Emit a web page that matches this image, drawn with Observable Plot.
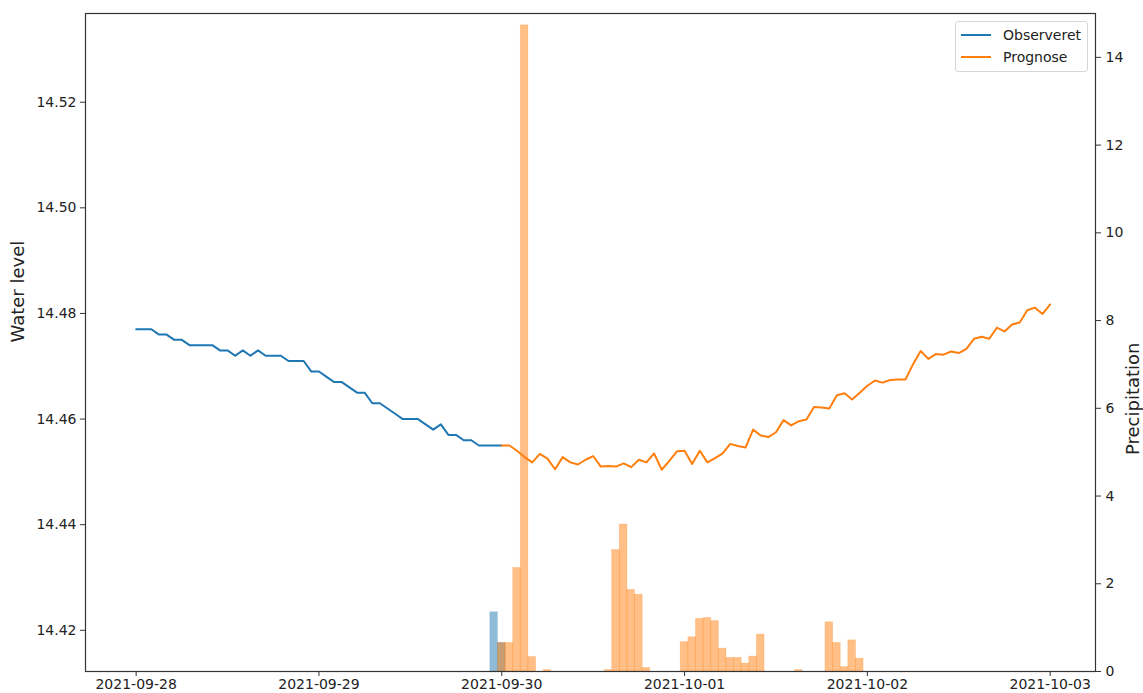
<!DOCTYPE html>
<html>
<head>
<meta charset="utf-8">
<script src="https://cdn.jsdelivr.net/npm/d3@7"></script>
<script src="https://cdn.jsdelivr.net/npm/@observablehq/plot@0.6"></script>
<style>
  html, body { margin: 0; padding: 0; background: #fff; }
  #chart { position: relative; width: 1143px; height: 693px; font-family: "DejaVu Sans", sans-serif; }
  #chart svg { position: absolute; left: 0; top: 0; }
  #legend { position: absolute; left: 955px; top: 21px; width: 133px; height: 51px; box-sizing: border-box;
            border: 1px solid #d6d6d6; border-radius: 3px; background: rgba(255,255,255,0.85);
            font-family: "DejaVu Sans", sans-serif; font-size: 14px; color: #222; }
  .item { position: absolute; left: 5px; height: 20px; display: flex; align-items: center; }
  .sw { width: 30px; height: 2px; margin-right: 12px; }
</style>
</head>
<body>
<div id="chart"></div>
<script>
// ---------- data ----------
const obsLevelStart = "2021-09-28T00:00:00Z";   // hourly
const obsLevel = [
  14.477, 14.477, 14.477, 14.476, 14.476, 14.475, 14.475, 14.474, 14.474, 14.474,
  14.474, 14.473, 14.473, 14.472, 14.473, 14.472, 14.473, 14.472, 14.472, 14.472,
  14.471, 14.471, 14.471, 14.469, 14.469, 14.468, 14.467, 14.467, 14.466, 14.465,
  14.465, 14.463, 14.463, 14.462, 14.461, 14.460, 14.460, 14.460, 14.459, 14.458,
  14.459, 14.457, 14.457, 14.456, 14.456, 14.455, 14.455, 14.455, 14.455
];
const fcLevelStart = "2021-09-30T00:00:00Z";    // hourly
const fcLevel = [
  14.4550, 14.4550, 14.4540, 14.4528, 14.4518, 14.4534, 14.4525, 14.4505, 14.4528, 14.4518,
  14.4514, 14.4523, 14.4530, 14.4510, 14.4511, 14.4510, 14.4516, 14.4509, 14.4523, 14.4518,
  14.4535, 14.4504, 14.4521, 14.4539, 14.4540, 14.4515, 14.4540, 14.4518, 14.4526, 14.4535,
  14.4553, 14.4549, 14.4546, 14.4580, 14.4569, 14.4566, 14.4575, 14.4598, 14.4588, 14.4596,
  14.4599, 14.4623, 14.4622, 14.4620, 14.4645, 14.4649, 14.4637, 14.4650, 14.4663, 14.4673,
  14.4669, 14.4674, 14.4675, 14.4675, 14.4704, 14.4729, 14.4714, 14.4723, 14.4722, 14.4728,
  14.4725, 14.4733, 14.4752, 14.4756, 14.4752, 14.4773, 14.4766, 14.4779, 14.4783, 14.4806,
  14.4811, 14.4799, 14.4817
];
const obsPrecipStart = "2021-09-29T23:00:00Z";  // hourly
const obsPrecip = [1.35, 0.65];
const fcPrecipStart = "2021-09-30T00:00:00Z";   // hourly
const fcPrecip = [
  0.65, 0.65, 2.36, 14.73, 0.33, 0, 0.03, 0, 0, 0,
  0, 0, 0, 0, 0.03, 2.77, 3.35, 1.86, 1.75, 0.08,
  0, 0, 0, 0, 0.67, 0.78, 1.20, 1.22, 1.15, 0.52,
  0.31, 0.31, 0.18, 0.34, 0.84, 0, 0, 0, 0, 0.03,
  0, 0, 0, 1.12, 0.65, 0.10, 0.71, 0.29
];
const xTickLabels = ["2021-09-28", "2021-09-29", "2021-09-30", "2021-10-01", "2021-10-02", "2021-10-03"];
const levelTicks = [14.42, 14.44, 14.46, 14.48, 14.50, 14.52];
const precipTicks = [0, 2, 4, 6, 8, 10, 12, 14];
const seriesNames = ["Observeret", "Prognose"];
const colors = ["#1f77b4", "#ff7f0e"];

// ---------- helpers ----------
const HOUR = 3600e3;
const hourly = (start, values) => values.map((v, i) => ({t: new Date(Date.parse(start) + i * HOUR), v}));
const obsLine = hourly(obsLevelStart, obsLevel);
const fcLine = hourly(fcLevelStart, fcLevel);
const obsBars = hourly(obsPrecipStart, obsPrecip).filter(d => d.v > 0);
const fcBars = hourly(fcPrecipStart, fcPrecip).filter(d => d.v > 0);
const xTicks = xTickLabels.map(s => new Date(s + "T00:00:00Z"));
const xDomain = [new Date(Date.parse("2021-09-28T00:00:00Z") - 6.65 * HOUR),
                 new Date(Date.parse("2021-10-03T00:00:00Z") + 5.95 * HOUR)];

const W = 1143, H = 693;
const margins = {marginLeft: 85, marginRight: 48, marginTop: 13, marginBottom: 22};
const style = {fontFamily: "DejaVu Sans, sans-serif", fontSize: "14px", color: "#222", background: "transparent", overflow: "visible"};

// ---------- left plot: water level lines ----------
const p1 = Plot.plot({
  width: W, height: H, ...margins, style,
  x: {type: "utc", domain: xDomain},
  y: {domain: [14.4122, 14.5368]},
  marks: [
    Plot.line(obsLine, {x: "t", y: "v", stroke: colors[0], strokeWidth: 2}),
    Plot.line(fcLine, {x: "t", y: "v", stroke: colors[1], strokeWidth: 2}),
    Plot.axisX({ticks: xTicks, tickFormat: d3.utcFormat("%Y-%m-%d"), tickSize: 5, tickPadding: 3, label: null, stroke: "#333"}),
    Plot.axisY({anchor: "left", ticks: levelTicks, tickFormat: d => d.toFixed(2), tickSize: 5, tickPadding: 4, label: null, stroke: "#333"}),
    Plot.text(["Water level"], {frameAnchor: "left", dx: -67, rotate: -90, fontSize: 18, fill: "#222"})
  ]
});

// ---------- right plot: precipitation bars ----------
const p2 = Plot.plot({
  width: W, height: H, ...margins, style,
  x: {type: "utc", domain: xDomain, axis: null},
  y: {domain: [0, 15]},
  marks: [
    Plot.rectY(obsBars, {x1: d => new Date(+d.t - HOUR / 2), x2: d => new Date(+d.t + HOUR / 2), y: "v",
      fill: colors[0], fillOpacity: 0.5, stroke: colors[0], strokeOpacity: 0.2, strokeWidth: 0.8}),
    Plot.rectY(fcBars, {x1: d => new Date(+d.t - HOUR / 2), x2: d => new Date(+d.t + HOUR / 2), y: "v",
      fill: colors[1], fillOpacity: 0.5, stroke: colors[1], strokeOpacity: 0.25, strokeWidth: 0.8}),
    Plot.axisY({anchor: "right", ticks: precipTicks, tickSize: 5, tickPadding: 5, label: null, stroke: "#333"}),
    Plot.text(["Precipitation"], {frameAnchor: "right", dx: 38, rotate: -90, fontSize: 18, fill: "#222"}),
    Plot.frame({stroke: "#333", strokeWidth: 1.2})
  ]
});

const chart = document.getElementById("chart");
chart.appendChild(p1);
chart.appendChild(p2);

// ---------- legend ----------
const legend = document.createElement("div");
legend.id = "legend";
seriesNames.forEach((name, i) => {
  const item = document.createElement("div");
  item.className = "item";
  item.style.top = (3 + i * 22) + "px";
  const sw = document.createElement("span");
  sw.className = "sw";
  sw.style.background = colors[i];
  const label = document.createElement("span");
  label.textContent = name;
  item.appendChild(sw);
  item.appendChild(label);
  legend.appendChild(item);
});
chart.appendChild(legend);
</script>
</body>
</html>
